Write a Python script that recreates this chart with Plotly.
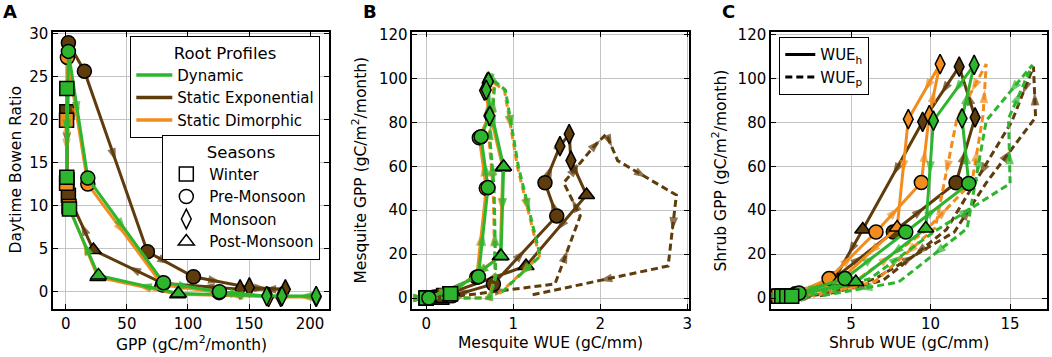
import plotly.graph_objects as go

W, H = 1052, 357

months = ["Jan", "Feb", "Mar", "Apr", "May", "Jun", "Jul", "Aug", "Sep", "Oct", "Nov", "Dec"]
month_season = ["Winter", "Winter", "Pre-Monsoon", "Pre-Monsoon", "Pre-Monsoon", "Pre-Monsoon",
                "Monsoon", "Monsoon", "Monsoon", "Post-Monsoon", "Post-Monsoon", "Winter"]
season_names = ["Winter", "Pre-Monsoon", "Monsoon", "Post-Monsoon"]

# ---------------- Dynamic (green) ----------------
dyn_gpp_total = [0.8, 0.8, 2.1, 18.0, 80.0, 125.8, 164.5, 205.0, 177.0, 92.2, 26.7, 3.0]
dyn_bowen = [23.6, 13.3, 27.9, 13.2, 1.05, 0.0, -0.5, -0.5, -0.5, -0.2, 1.9, 9.6]
dyn_mesq_gpp = [0.0, 0.0, 0.0, 9.7, 50.3, 73.5, 83.0, 98.6, 94.8, 59.8, 19.1, 2.0]
dyn_mesq_wue_h = [0.0, 0.0, 0.03, 0.60, 0.71, 0.63, 0.73, 0.715, 0.69, 0.89, 0.86, 0.28]
dyn_mesq_wue_p = [0.05, 0.10, 0.73, 0.80, 0.78, 0.73, 0.76, 0.79, 0.91, 1.06, 1.31, 0.85]
dyn_shrub_gpp = [0.8, 0.8, 2.3, 8.85, 30.1, 52.2, 81.8, 106.2, 80.8, 31.7, 7.3, 0.8]
dyn_shrub_wue_h = [0.65, 0.96, 1.73, 4.62, 8.44, 12.4, 11.98, 12.74, 10.18, 9.7, 5.3, 1.27]
dyn_shrub_wue_p = [1.8, 2.2, 3.0, 6.2, 10.2, 15.0, 14.9, 16.4, 13.5, 12.3, 8.0, 3.0]

# ---------------- Static Exponential (brown) ----------------
exp_gpp_total = [0.8, 1.0, 2.1, 15.2, 66.8, 104.5, 150.3, 179.8, 142.7, 79.0, 22.6, 2.1]
exp_bowen = [20.9, 13.0, 28.9, 25.6, 4.64, 1.74, 0.5, 0.28, 0.28, 1.0, 4.84, 11.2]
exp_mesq_gpp = [0.3, 0.4, 1.0, 6.4, 37.4, 52.5, 69.2, 74.7, 62.6, 46.9, 14.6, 1.2]
exp_mesq_wue_h = [0.15, 0.18, 0.30, 0.772, 1.50, 1.365, 1.537, 1.643, 1.663, 1.843, 1.147, 0.20]
exp_mesq_wue_p = [0.24, 0.30, 0.40, 1.48, 1.77, 1.58, 1.93, 2.07, 2.20, 2.875, 2.78, 1.19]
exp_shrub_gpp = [0.9, 0.9, 1.8, 8.7, 30.1, 52.5, 82.3, 105.4, 80.3, 31.2, 8.0, 0.9]
exp_shrub_wue_h = [0.5, 0.8, 1.6, 3.9, 7.66, 11.6, 12.8, 11.8, 9.5, 5.74, 3.9, 1.1]
exp_shrub_wue_p = [2.0, 2.4, 3.2, 6.5, 11.5, 13.5, 16.6, 16.47, 15.1, 11.0, 7.0, 3.0]

# ---------------- Static Dimorphic (orange) ----------------
dim_gpp_total = [0.6, 0.6, 1.3, 18.0, 79.0, 125.5, 166.0, 205.0, 176.0, 91.5, 26.2, 2.6]
dim_bowen = [19.9, 12.6, 27.2, 12.5, 0.8, -0.1, -0.6, -0.6, -0.6, -0.3, 1.7, 9.9]
dim_mesq_gpp = [0.0, 0.0, 0.0, 9.5, 50.0, 73.0, 83.0, 98.0, 94.5, 59.5, 19.0, 2.0]
dim_mesq_wue_h = [0.0, 0.0, 0.02, 0.58, 0.69, 0.61, 0.72, 0.70, 0.67, 0.88, 0.85, 0.27]
dim_mesq_wue_p = [0.05, 0.10, 0.72, 0.79, 0.77, 0.72, 0.75, 0.78, 0.90, 1.05, 1.30, 0.84]
dim_shrub_gpp = [0.8, 0.8, 2.0, 8.85, 30.1, 52.6, 83.3, 106.6, 81.5, 32.1, 7.5, 0.8]
dim_shrub_wue_h = [0.45, 0.7, 1.5, 3.62, 6.57, 9.42, 9.92, 10.6, 8.6, 7.9, 4.2, 1.0]
dim_shrub_wue_p = [1.6, 2.0, 2.6, 5.5, 9.6, 12.6, 13.3, 13.5, 11.65, 10.3, 6.5, 2.6]

GREEN = "#2db52d"
BROWN = "#5e3c0c"
ORANGE = "#f28c1c"
FONT = "DejaVu Sans"

season_symbol = {"Winter": "square", "Pre-Monsoon": "circle",
                 "Monsoon": "diamond-tall", "Post-Monsoon": "triangle-up"}
symbols = [season_symbol[s] for s in month_season]

profiles = [
    dict(name="Static Exponential", color=BROWN, total=exp_gpp_total, bowen=exp_bowen,
         mg=exp_mesq_gpp, mh=exp_mesq_wue_h, mp=exp_mesq_wue_p,
         sg=exp_shrub_gpp, sh=exp_shrub_wue_h, sp=exp_shrub_wue_p),
    dict(name="Static Dimorphic", color=ORANGE, total=dim_gpp_total, bowen=dim_bowen,
         mg=dim_mesq_gpp, mh=dim_mesq_wue_h, mp=dim_mesq_wue_p,
         sg=dim_shrub_gpp, sh=dim_shrub_wue_h, sp=dim_shrub_wue_p),
    dict(name="Dynamic", color=GREEN, total=dyn_gpp_total, bowen=dyn_bowen,
         mg=dyn_mesq_gpp, mh=dyn_mesq_wue_h, mp=dyn_mesq_wue_p,
         sg=dyn_shrub_gpp, sh=dyn_shrub_wue_h, sp=dyn_shrub_wue_p),
]

LW = 3
ARROW = 14
MSIZE = 14
DASH = "7px,4px"

fig = go.Figure()


def add_path(x, y, color, xa, ya, dash="solid", markers=False):
    fig.add_trace(go.Scatter(x=x, y=y, mode="lines", line=dict(color=color, width=LW, dash=dash),
                             xaxis=xa, yaxis=ya, showlegend=False, hoverinfo="skip"))
    ax, ay, sz = [], [], []
    for i in range(len(x) - 1):
        ax += [x[i], (x[i] + x[i + 1]) / 2]
        ay += [y[i], (y[i] + y[i + 1]) / 2]
        sz += [0, ARROW]
    fig.add_trace(go.Scatter(x=ax, y=ay, mode="markers",
                             marker=dict(symbol="arrow", angleref="previous", size=sz, color=color,
                                         line=dict(width=0)),
                             xaxis=xa, yaxis=ya, showlegend=False, hoverinfo="skip"))
    if markers:
        fig.add_trace(go.Scatter(x=x, y=y, mode="markers",
                                 marker=dict(symbol=symbols, size=MSIZE, color=color,
                                             line=dict(color="black", width=1.5)),
                                 xaxis=xa, yaxis=ya, showlegend=False, hoverinfo="skip"))


for p in profiles:
    add_path(p["total"], p["bowen"], p["color"], "x", "y", markers=True)
    add_path(p["mp"], p["mg"], p["color"], "x2", "y2", dash=DASH)
    add_path(p["mh"], p["mg"], p["color"], "x2", "y2", markers=True)
    add_path(p["sp"], p["sg"], p["color"], "x3", "y3", dash=DASH)
    add_path(p["sh"], p["sg"], p["color"], "x3", "y3", markers=True)

# legends
for name, color in [("Dynamic", GREEN), ("Static Exponential", BROWN), ("Static Dimorphic", ORANGE)]:
    fig.add_trace(go.Scatter(x=[None], y=[None], mode="lines", name=name,
                             line=dict(color=color, width=3.5), legend="legend",
                             xaxis="x", yaxis="y"))
for s in season_names:
    fig.add_trace(go.Scatter(x=[None], y=[None], mode="markers", name=s,
                             marker=dict(symbol=season_symbol[s], size=MSIZE, color="white",
                                         line=dict(color="black", width=1.5)),
                             legend="legend2", xaxis="x", yaxis="y"))
fig.add_trace(go.Scatter(x=[None], y=[None], mode="lines", name="WUE<sub>h</sub>",
                         line=dict(color="black", width=3), legend="legend3", xaxis="x3", yaxis="y3"))
fig.add_trace(go.Scatter(x=[None], y=[None], mode="lines", name="WUE<sub>p</sub>",
                         line=dict(color="black", width=3, dash=DASH), legend="legend3",
                         xaxis="x3", yaxis="y3"))

ydom = [1 - 309 / H, 1 - 32 / H]
axis_common = dict(showline=True, linecolor="black", linewidth=1.5, mirror="allticks",
                   ticks="inside", ticklen=5, tickwidth=1.3, tickcolor="black",
                   showgrid=True, gridcolor="#c4c4c4", gridwidth=1, zeroline=False,
                   tickfont=dict(family=FONT, size=15, color="black"), automargin=False)


def label(text, x, y, angle=0, size=15.5, bold=False):
    return dict(text=("<b>%s</b>" % text) if bold else text, x=x / W, y=1 - y / H,
                xref="paper", yref="paper", showarrow=False, textangle=angle,
                font=dict(family=FONT, size=size, color="black"), xanchor="center", yanchor="middle")


fig.update_layout(
    width=W, height=H, margin=dict(l=0, r=0, t=0, b=0),
    paper_bgcolor="white", plot_bgcolor="white",
    font=dict(family=FONT, color="black"),
    xaxis=dict(domain=[53 / W, 329 / W], range=[-10.5, 215.5], tickvals=[0, 50, 100, 150, 200],
               anchor="y", **axis_common),
    yaxis=dict(domain=ydom, range=[-2.0, 30.15], tickvals=[0, 5, 10, 15, 20, 25, 30], anchor="x",
               **axis_common),
    xaxis2=dict(domain=[412.3 / W, 689 / W], range=[-0.16, 3.02], tickvals=[0, 1, 2, 3], anchor="y2",
                **axis_common),
    yaxis2=dict(domain=ydom, range=[-5.0, 121.2], tickvals=[0, 20, 40, 60, 80, 100, 120], anchor="x2",
                **axis_common),
    xaxis3=dict(domain=[771 / W, 1046.7 / W], range=[-0.03, 17.3], tickvals=[5, 10, 15], anchor="y3",
                **axis_common),
    yaxis3=dict(domain=ydom, range=[-5.0, 121.2], tickvals=[0, 20, 40, 60, 80, 100, 120], anchor="x3",
                **axis_common),
    legend=dict(x=130 / W, y=1 - 36 / H, xanchor="left", yanchor="top", bgcolor="white",
                bordercolor="black", borderwidth=1.3, font=dict(family=FONT, size=15), itemwidth=36,
                title=dict(text="Root Profiles", side="top center", font=dict(family=FONT, size=16.5))),
    legend2=dict(x=162 / W, y=1 - 135 / H, xanchor="left", yanchor="top", bgcolor="white",
                 bordercolor="black", borderwidth=1.3, font=dict(family=FONT, size=15), itemwidth=36,
                 title=dict(text="Seasons", side="top center", font=dict(family=FONT, size=16.5))),
    legend3=dict(x=779 / W, y=1 - 37 / H, xanchor="left", yanchor="top", bgcolor="white",
                 bordercolor="black", borderwidth=1.3, font=dict(family=FONT, size=15)),
    annotations=[
        label("A", 10, 12, size=18, bold=True),
        label("B", 370, 12, size=18, bold=True),
        label("C", 728, 12, size=18, bold=True),
        label("GPP (gC/m<sup>2</sup>/month)", 191, 343),
        label("Mesquite WUE (gC/mm)", 550.5, 343),
        label("Shrub WUE (gC/mm)", 909, 343),
        label("Daytime Bowen Ratio", 15, 170.5, angle=-90),
        label("Mesquite GPP (gC/m<sup>2</sup>/month)", 360, 170.5, angle=-90),
        label("Shrub GPP (gC/m<sup>2</sup>/month)", 720, 170.5, angle=-90),
    ],
)

fig.write_html("out.html", config={"displayModeBar": False},
               post_script="document.body.style.margin='0px';document.body.style.overflow='hidden';")
